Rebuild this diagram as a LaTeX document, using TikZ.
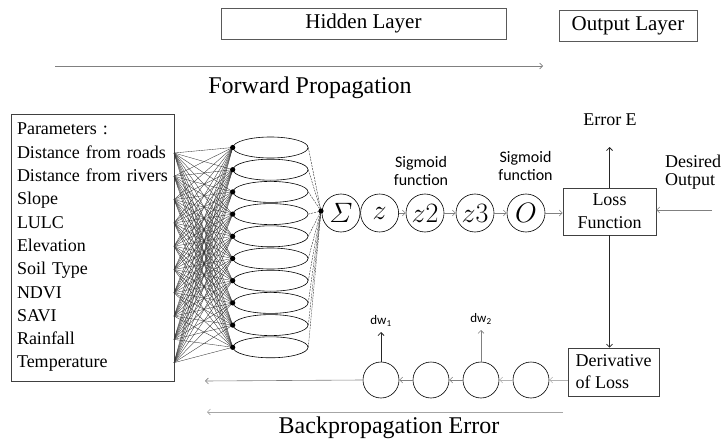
\RequirePackage{fix-cm}
\documentclass[tikz,border=0pt]{standalone}
\usepackage{amsmath}
\usepackage{fontspec}
\setmainfont{Liberation Serif}
\newfontfamily\sigfont{Carlito}
\usepackage{tikz}
\usetikzlibrary{arrows.meta,positioning,calc,shapes.geometric}

\begin{document}
\begin{tikzpicture}[
  x=1pt, y=-1pt,
  >={Straight Barb[length=3pt,width=6pt]},
  arr/.style={->, gray, line width=0.6pt},
  darr/.style={->, black!85, line width=0.8pt},
  labbox/.style={draw=black!65, line width=0.6pt,
    font=\fontsize{21}{24}\selectfont, inner sep=0pt},
  bigtxt/.style={font=\fontsize{24}{28}\selectfont, inner sep=0pt},
  txt/.style={font=\fontsize{18}{23}\selectfont, inner sep=0pt},
  losbox/.style={draw=black!75, line width=0.7pt, align=center,
    font=\fontsize{18}{23}\selectfont, inner sep=0pt},
  neuron/.style={draw, ellipse, line width=0.6pt, minimum width=75pt,
    minimum height=21pt, inner sep=0pt},
  mcirc/.style={draw, circle, line width=0.6pt, minimum size=38pt,
    inner sep=0pt, font=\fontsize{28}{30}\selectfont},
  bcirc/.style={draw, circle, line width=0.6pt, minimum size=36pt, inner sep=0pt},
  sig/.style={font=\sigfont\fontsize{16}{18}\selectfont, align=center, inner sep=0pt},
  dwlab/.style={font=\sigfont\fontsize{13}{14}\selectfont, inner sep=0pt},
  wire/.style={black!80, line width=0.35pt},
  tap/.style={black!80, line width=0.4pt, dash pattern=on 2pt off 1pt},
]
\useasboundingbox (0,0) rectangle (721,444);

% ── layer titles and forward direction ──────────────────────────────────────
\node[labbox, minimum width=285pt, minimum height=31pt] (hid) at (363.5,23.5) {Hidden Layer};
\node[labbox, minimum width=138pt, minimum height=31pt] (outl) at (628,25.5) {Output Layer};

\coordinate (fwdA) at (55,66);
\coordinate (fwdB) at (543,66);
\draw[arr] (fwdA) -- (fwdB);
\node[bigtxt] (fwd) at (310,88) {Forward Propagation};

% ── input parameters ────────────────────────────────────────────────────────
\node[draw=black!75, line width=0.7pt, minimum width=163pt, minimum height=267pt,
  text width=151pt, inner xsep=6pt, inner ysep=0pt, align=left,
  font=\fontsize{18}{23.3}\selectfont] (params) at (92.5,247.5)
  {Parameters :\\
   Distance from roads\\
   Distance from rivers\\
   Slope\\
   LULC\\
   Elevation\\
   Soil Type\\
   NDVI\\
   SAVI\\
   Rainfall\\
   Temperature};

\foreach \j in {1,...,10}
  \coordinate (in\j) at (174,{153+23.3*(\j-1)});

% ── hidden neurons ──────────────────────────────────────────────────────────
\foreach \i in {1,...,10}
  \node[neuron] (h\i) at (270.5,{147.5+22.2*(\i-1)}) {};

\foreach \j in {1,...,10}
  \foreach \i in {1,...,10}
    \draw[wire] (in\j) -- (h\i.west);
\foreach \i in {1,...,10}
  \fill (h\i.west) circle (2.6pt);

% ── output neuron chain ─────────────────────────────────────────────────────
\node[mcirc] (sum) at (341,213) {$\varSigma$};
\node[mcirc, right=0pt of sum] (zz) {$z$};
\node[mcirc] (z2) at (425,213) {$z2$};
\node[mcirc] (z3) at (475,213) {$z3$};
\node[mcirc] (out) at (526,213) {$O$};

\coordinate (jn) at (321,211);
\foreach \i in {1,...,10}
  \draw[tap] (h\i.east) -- (jn);
\fill (jn) circle (2.6pt);

\node[sig] (sig1) at (421,171) {Sigmoid\\function};
\node[sig] (sig2) at (525.5,166) {Sigmoid\\function};

\draw[arr] (zz) -- (z2);
\draw[arr] (z2) -- (z3);
\draw[arr] (z3) -- (out);

% ── loss and error ──────────────────────────────────────────────────────────
\node[losbox, minimum width=93pt, minimum height=47pt] (loss) at (609.5,211.5) {Loss\\Function};
\draw[arr] (out) -- (out -| loss.west);

\node[txt] (err) at (610,120) {Error E};
\coordinate (errtip) at (609.5,147);
\draw[darr] (loss.north) -- (errtip);

\node[txt, align=left, anchor=west, font=\fontsize{18}{18}\selectfont] (des) at (665,172) {Desired\\Output};
\coordinate (desA) at (712,210);
\draw[arr] (desA) -- (desA -| loss.east);

\node[losbox, align=left, minimum width=91pt, minimum height=48pt,
  font=\fontsize{18}{22}\selectfont] (deriv) at (613.5,372) {Derivative\\of Loss};
\draw[darr] (loss.south) -- (loss.south |- deriv.north);

% ── backward chain ──────────────────────────────────────────────────────────
\node[bcirc] (c4) at (531,380) {};
\node[bcirc] (c3) at (481,380) {};
\node[bcirc] (c2) at (431,380) {};
\node[bcirc] (c1) at (381,380) {};

\draw[arr, gray!60] (deriv.west |- c4.east) -- (c4.east);
\draw[arr, gray!60] (c4) -- (c3);
\draw[arr] (c3) -- (c2);
\draw[arr] (c2) -- (c1);

\coordinate (bl) at (205,381);
\draw[arr] (c1.west) -- (bl);

\coordinate (dw1tip) at (381,332);
\coordinate (dw2tip) at (481,330);
\draw[darr] (c1.north) -- (dw1tip);
\draw[arr] (c3.north) -- (dw2tip);
\node[dwlab] (dw1) at (381,321) {dw\textsubscript{1}};
\node[dwlab] (dw2) at (481,319) {dw\textsubscript{2}};

\coordinate (bpA) at (563,412);
\coordinate (bpB) at (207,412);
\draw[arr, gray!70] (bpA) -- (bpB);
\node[bigtxt] (bp) at (389,428) {Backpropagation Error};
\end{tikzpicture}
\end{document}
